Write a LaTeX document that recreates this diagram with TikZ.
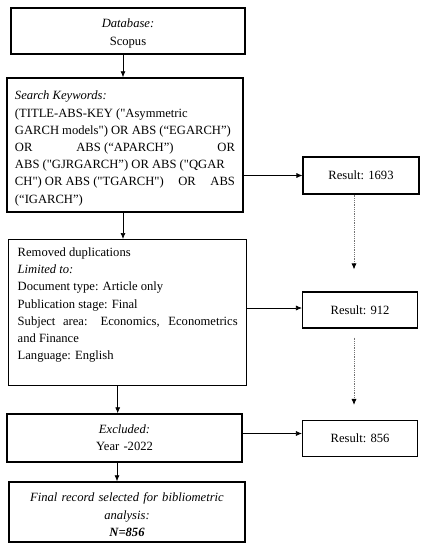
\documentclass[tikz,border=0pt]{standalone}
\usepackage{fontspec}
\setmainfont{Liberation Serif}[Ligatures=TeXOff]
\usepackage{tikz}
\usetikzlibrary{arrows.meta, positioning}
\tikzstyle{stage} = [rectangle, draw=black, line width=1.4pt, inner xsep=8pt, inner ysep=3pt, font=\fontsize{12.6}{17.2}\selectfont]
\tikzstyle{result} = [rectangle, draw=black, line width=1.1pt, minimum width=115pt, minimum height=36pt, text centered, font=\fontsize{12.6}{17.2}\selectfont]
\tikzstyle{arrow} = [line width=0.7pt, -{Latex[length=6pt,width=5pt]}]
\tikzstyle{dotarrow} = [line width=0.8pt, densely dotted, draw=black!55, -{Latex[length=6pt,width=5pt,color=black]}]

\begin{document}
\begin{tikzpicture}[x=1pt, y=-1pt]
        \useasboundingbox (0,0) rectangle (426,550);

        % Left column
        \node (db) [stage, text width=218pt, minimum width=234pt, minimum height=46pt, text depth=15pt, align=center] at (128,31) {\textit{Database:}\\Scopus};
        \node (search) [stage, text width=220pt, minimum width=236pt, minimum height=134pt, text depth=99pt, align=justify] at (125,145) {\textit{Search Keywords:}\\
(TITLE-ABS-KEY ("Asymmetric\\
GARCH models") OR ABS (“EGARCH”)\\
OR\hfill ABS (“APARCH”)\hfill OR\\
ABS ("GJRGARCH”) OR ABS ("QGAR\\
CH") OR ABS ("TGARCH")\hfill OR\hfill ABS\\
(“IGARCH”)};
        \node (removed) [stage, anchor=north west, text width=220pt, minimum width=238pt, inner ysep=8pt, text depth=121pt, align=justify] at (8,239) {Removed duplications\\
\textit{Limited to:}\\
Document type: Article only\\
Publication stage: Final\\
Subject area: Economics, Econometrics\linebreak
and Finance\\
Language: English};
        \node (excl) [stage, text width=219pt, minimum width=235pt, minimum height=48pt, align=center] at (124.5,438) {\textit{Excluded:}\\Year -2022};
        \node (final) [stage, text width=220pt, minimum width=236pt, minimum height=60pt, text depth=29pt, align=center] at (127,512) {\textit{Final record selected for bibliometric}\\\textit{analysis:}\\\textbf{\textit{N=856}}};

        % Results
        \node (res1) [result, minimum width=116pt, minimum height=37pt] at (361,175.5) {Result: 1693};
        \node (res2) [result] at (360,310) {Result: 912};
        \node (res3) [result] at (360,438.5) {Result: 856};

        % Flow
        \draw [arrow] ([xshift=-5pt]db.south) -- ([xshift=-5pt]db.south |- search.north);
        \draw [arrow] ([xshift=-2pt]search.south) -- ([xshift=-2pt]search.south |- removed.north);
        \draw [arrow] ([xshift=-10pt]removed.south) -- ([xshift=-10pt]removed.south |- excl.north);
        \draw [arrow] ([xshift=-7.5pt]excl.south) -- ([xshift=-7.5pt]excl.south |- final.north);

        \draw [arrow] (search.east |- res1.west) -- (res1.west);
        \draw [arrow] ([yshift=2pt]res2.west -| removed.east) -- ([yshift=2pt]res2.west);
        \draw [arrow] ([yshift=5pt]res3.west -| excl.east) -- ([yshift=5pt]res3.west);

        \draw [dotarrow, shorten >=22pt] ([xshift=-7pt]res1.south) -- ([xshift=-7pt]res1.south |- res2.north);
        \draw [dotarrow, shorten <=9pt, shorten >=15pt] ([xshift=-6pt]res2.south) -- ([xshift=-6pt]res2.south |- res3.north);
    \end{tikzpicture}
\end{document}
